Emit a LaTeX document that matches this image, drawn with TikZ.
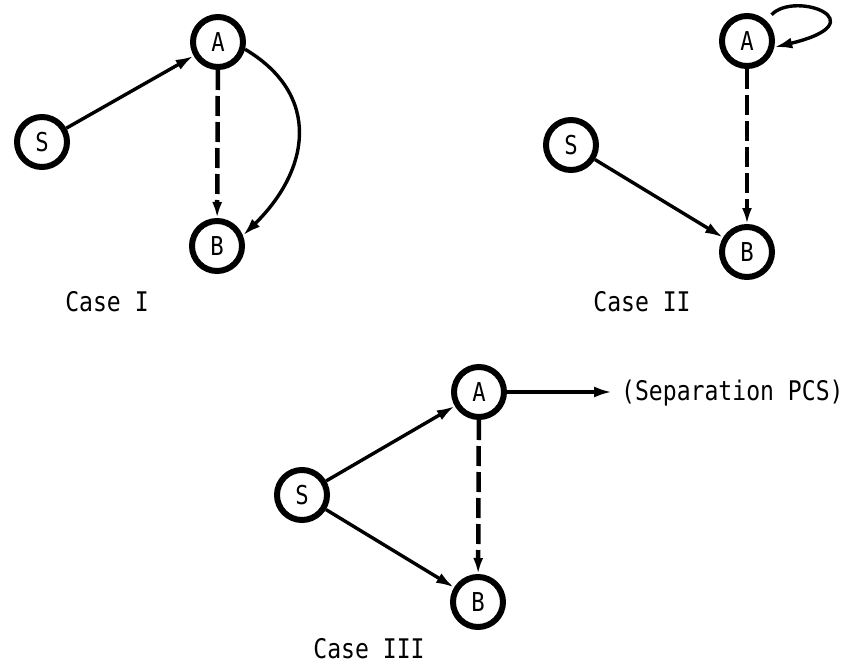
\documentclass[tikz,border=0pt]{standalone}
\usepackage{fontspec}
\newfontfamily\tw[FakeStretch=0.855]{DejaVu Sans Mono}
\usetikzlibrary{arrows.meta}
\begin{document}
\begin{tikzpicture}[x=1pt,y=-1pt,
  state/.style={circle,draw,line width=6pt,minimum size=50pt,inner sep=0pt,
    font=\tw\fontsize{26}{26}\selectfont},
  arr/.style={line width=3.4pt,-{Latex[length=18pt,width=11pt]}},
  darr/.style={line width=4.5pt,dash pattern=on 20pt off 6pt,-{Latex[length=16pt,width=10pt]}},
  lbl/.style={font=\tw\fontsize{27}{27}\selectfont,inner sep=0pt}]
\useasboundingbox (0,0) rectangle (855,664);
% Case I
\node[state] (A1) at (218,42) {A};
\node[state] (S1) at (42,142) {S};
\node[state] (B1) at (217,246) {B};
\draw[arr] (S1) -- (A1);
\draw[darr] (A1) -- (B1);
\draw[arr] (A1.-15) .. controls (322,95) and (310,170) .. (B1.22);
\node[lbl] (L1) at (107,302) {Case I};
% Case II
\node[state] (A2) at (747,41) {A};
\node[state] (S2) at (571,145) {S};
\node[state] (B2) at (747,252) {B};
\draw[arr] (S2) -- (B2);
\draw[darr] (A2) -- (B2);
\draw[arr,shorten <=8pt] (A2.47) .. controls (795,-10) and (880,22) .. (A2.-13);
\node[lbl] (L2) at (642,302) {Case II};
% Case III
\node[state] (A3) at (479,392) {A};
\node[state] (S3) at (302,495) {S};
\node[state] (B3) at (478,602) {B};
\draw[arr] (S3) -- (A3);
\draw[arr] (S3) -- (B3);
\draw[darr] (A3) -- (B3);
\node[lbl,anchor=west] (P) at (621,393) {(Separation PCS)};
\coordinate (P0) at (612,392);
\draw[arr] (A3) -- (P0);
\node[lbl] (L3) at (369,649) {Case III};
\end{tikzpicture}
\end{document}
